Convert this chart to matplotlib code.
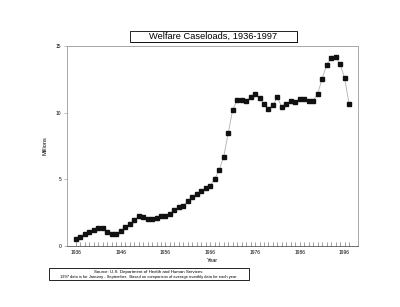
import matplotlib
matplotlib.use("Agg")
import matplotlib.pyplot as plt
from matplotlib.patches import Rectangle

plt.rcParams['font.family'] = ['Liberation Sans', 'DejaVu Sans']

### Data (millions of recipients)
years = list(range(1936, 1998))
caseloads = [0.53, 0.68, 0.90, 1.05, 1.20, 1.35, 1.35, 1.05, 0.93, 0.93,
             1.13, 1.40, 1.63, 1.93, 2.23, 2.15, 2.05, 2.00, 2.10, 2.23,
             2.23, 2.40, 2.70, 2.93, 3.03, 3.35, 3.68, 3.88, 4.13, 4.35,
             4.53, 5.03, 5.70, 6.70, 8.45, 10.20, 10.93, 10.93, 10.85, 11.15,
             11.38, 11.13, 10.65, 10.30, 10.58, 11.15, 10.40, 10.63, 10.85, 10.80,
             11.00, 11.03, 10.90, 10.90, 11.43, 12.55, 13.60, 14.10, 14.20, 13.63,
             12.60, 10.68]
xtick_years = [1936, 1946, 1956, 1966, 1976, 1986, 1996]
ytick_values = [0, 5, 10, 15]

title = "Welfare Caseloads, 1936-1997"
source_line1 = "Source: U.S. Department of Health and Human Services"
source_line2 = "1997 data is for January - September.  Based on comparison of average monthly data for each year"

fig = plt.figure(figsize=(4.0, 3.07), dpi=100)
ax = fig.add_axes([0.1675, 0.199, 0.7275, 0.651])

ax.plot(years, caseloads, color='#b0b0b0', linewidth=0.6, zorder=1)
ax.plot(years, caseloads, linestyle='none', marker='s', markersize=3.2,
        color='#111111', zorder=2)

ax.set_xlim(1934, 1999)
ax.set_ylim(0, 15)

ax.set_yticks(ytick_values)
ax.set_yticklabels([str(v) for v in ytick_values], fontsize=3.5)
ax.set_xticks(xtick_years)
ax.set_xticklabels([str(y) for y in xtick_years], fontsize=3.5)
ax.set_xticks(years, minor=True)
ax.tick_params(axis='x', which='both', direction='in', length=3, width=0.4,
               color='#555555', pad=3)
ax.tick_params(axis='y', which='both', direction='out', length=2, width=0.4,
               color='#888888', pad=2)

for s in ax.spines.values():
    s.set_color('#9a9a9a')
    s.set_linewidth(0.6)
ax.spines['bottom'].set_color('#555555')

ax.set_ylabel("Millions", fontsize=4, labelpad=6)
ax.set_xlabel("Year", fontsize=4, labelpad=2)

# title in a box with drop shadow
fig.patches.append(Rectangle((0.328, 0.860), 0.417, 0.036, transform=fig.transFigure,
                             facecolor='black', edgecolor='none', zorder=1))
fig.patches.append(Rectangle((0.325, 0.864), 0.417, 0.036, transform=fig.transFigure,
                             facecolor='white', edgecolor='black', linewidth=0.6, zorder=2))
fig.text(0.5335, 0.882, title, ha='center', va='center', fontsize=6.7, zorder=3)

# source note box
fig.text(0.37, 0.113, source_line1, ha='center', va='center', fontsize=3.2)
fig.text(0.372, 0.097, source_line2, ha='center', va='center', fontsize=2.9)
fig.patches.append(Rectangle((0.122, 0.087), 0.5, 0.04, transform=fig.transFigure,
                             fill=False, edgecolor='black', linewidth=0.6))

fig.savefig("out.png", dpi=100)
